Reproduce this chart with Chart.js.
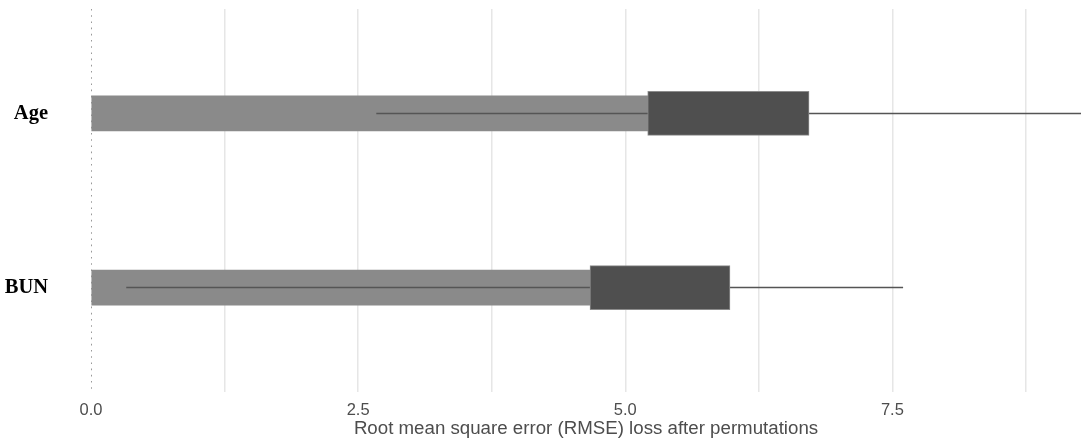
<!DOCTYPE html>
<html>
<head>
<meta charset="utf-8">
<script src="https://cdn.jsdelivr.net/npm/chart.js@4/dist/chart.umd.min.js"></script>
<style>
  html, body { margin: 0; padding: 0; background: #fff; }
  #wrap { width: 1081px; height: 444px; position: relative; }
</style>
</head>
<body>
<div id="wrap"><canvas id="plot"></canvas></div>
<script>
// variables, top to bottom
const categories = ['Age', 'BUN'];
// mean loss (light bar)
const meanLoss = [5.21, 4.67];
// boxplot of the permutation losses
const boxLow = [5.21, 4.67];
const boxHigh = [6.72, 5.98];
const whiskerLow = [2.67, 0.33];
const whiskerHigh = [9.4, 7.60];
// x axis
const xMajorTicks = [0, 2.5, 5, 7.5];
const xMinorTicks = [1.25, 3.75, 6.25, 8.75];
const xMax = 9.265;
// y range (discrete positions 1..n with padding)
const yMin = 0.4, yMax = 2.6;

const whiskerSets = categories.map((c, i) => ({
  type: 'line',
  label: c + ' whisker',
  data: [{ x: whiskerLow[i], y: i + 1 }, { x: whiskerHigh[i], y: i + 1 }],
  borderColor: '#555555',
  borderWidth: 1.5,
  pointRadius: 0,
  order: 2
}));

// dotted reference line at zero
const zeroLine = {
  type: 'line',
  label: 'zero',
  data: [{ x: 0, y: yMin }, { x: 0, y: yMax }],
  borderColor: '#6e6e6e',
  borderWidth: 1.4,
  borderDash: [1.6, 4.6],
  pointRadius: 0,
  order: 4
};

const ctx = document.getElementById('plot').getContext('2d');
const chart = new Chart(ctx, {
  type: 'bar',
  data: {
    datasets: [
      zeroLine,
      {
        label: 'mean',
        data: categories.map((c, i) => ({ x: meanLoss[i], y: i + 1 })),
        backgroundColor: '#8a8a8a',
        barThickness: 35,
        grouped: false,
        order: 3
      },
      ...whiskerSets,
      {
        label: 'box',
        data: categories.map((c, i) => ({ x: [boxLow[i], boxHigh[i]], y: i + 1 })),
        backgroundColor: '#4f4f4f',
        borderColor: '#8c8c8c',
        borderWidth: 1,
        borderSkipped: false,
        barThickness: 44,
        grouped: false,
        order: 1
      }
    ]
  },
  options: {
    indexAxis: 'y',
    responsive: true,
    maintainAspectRatio: false,
    animation: false,
    layout: { padding: { top: 9, right: 0, bottom: 4, left: 0 } },
    plugins: {
      legend: { display: false },
      tooltip: { enabled: false }
    },
    scales: {
      x: {
        type: 'linear',
        min: 0,
        max: xMax,
        afterBuildTicks: scale => {
          scale.ticks = [...xMajorTicks, ...xMinorTicks].sort((a, b) => a - b).map(v => ({ value: v }));
        },
        afterFit: scale => { scale.height = 48; },
        ticks: {
          autoSkip: false,
          maxRotation: 0,
          color: '#4d4d4d',
          padding: 10,
          font: { family: 'Liberation Sans', size: 16.5, lineHeight: 1 },
          callback: v => xMajorTicks.includes(v) ? v.toFixed(1) : ''
        },
        grid: {
          color: c => (c.tick && c.tick.value === 0) ? 'rgba(0,0,0,0)' : '#e6e6e6',
          lineWidth: 1.5,
          drawTicks: false
        },
        border: { display: false },
        title: {
          display: true,
          text: 'Root mean square error (RMSE) loss after permutations',
          color: '#4d4d4d',
          font: { family: 'Liberation Sans', size: 18.7 },
          padding: { top: 0, bottom: 0 }
        }
      },
      y: {
        type: 'linear',
        min: yMin,
        max: yMax,
        reverse: true,
        offset: false,
        afterBuildTicks: scale => {
          scale.ticks = categories.map((c, i) => ({ value: i + 1 }));
        },
        afterFit: scale => { scale.width = 91; },
        ticks: {
          color: '#000000',
          padding: 0,
          font: { family: 'Liberation Serif', size: 20.5, weight: 'bold', lineHeight: 0.1 },
          callback: v => categories[v - 1]
        },
        grid: {
          display: true,
          drawOnChartArea: false,
          drawTicks: true,
          tickLength: 43,
          tickColor: 'rgba(0,0,0,0)',
          offset: false
        },
        border: { display: false }
      }
    }
  }
});
</script>
</body>
</html>
